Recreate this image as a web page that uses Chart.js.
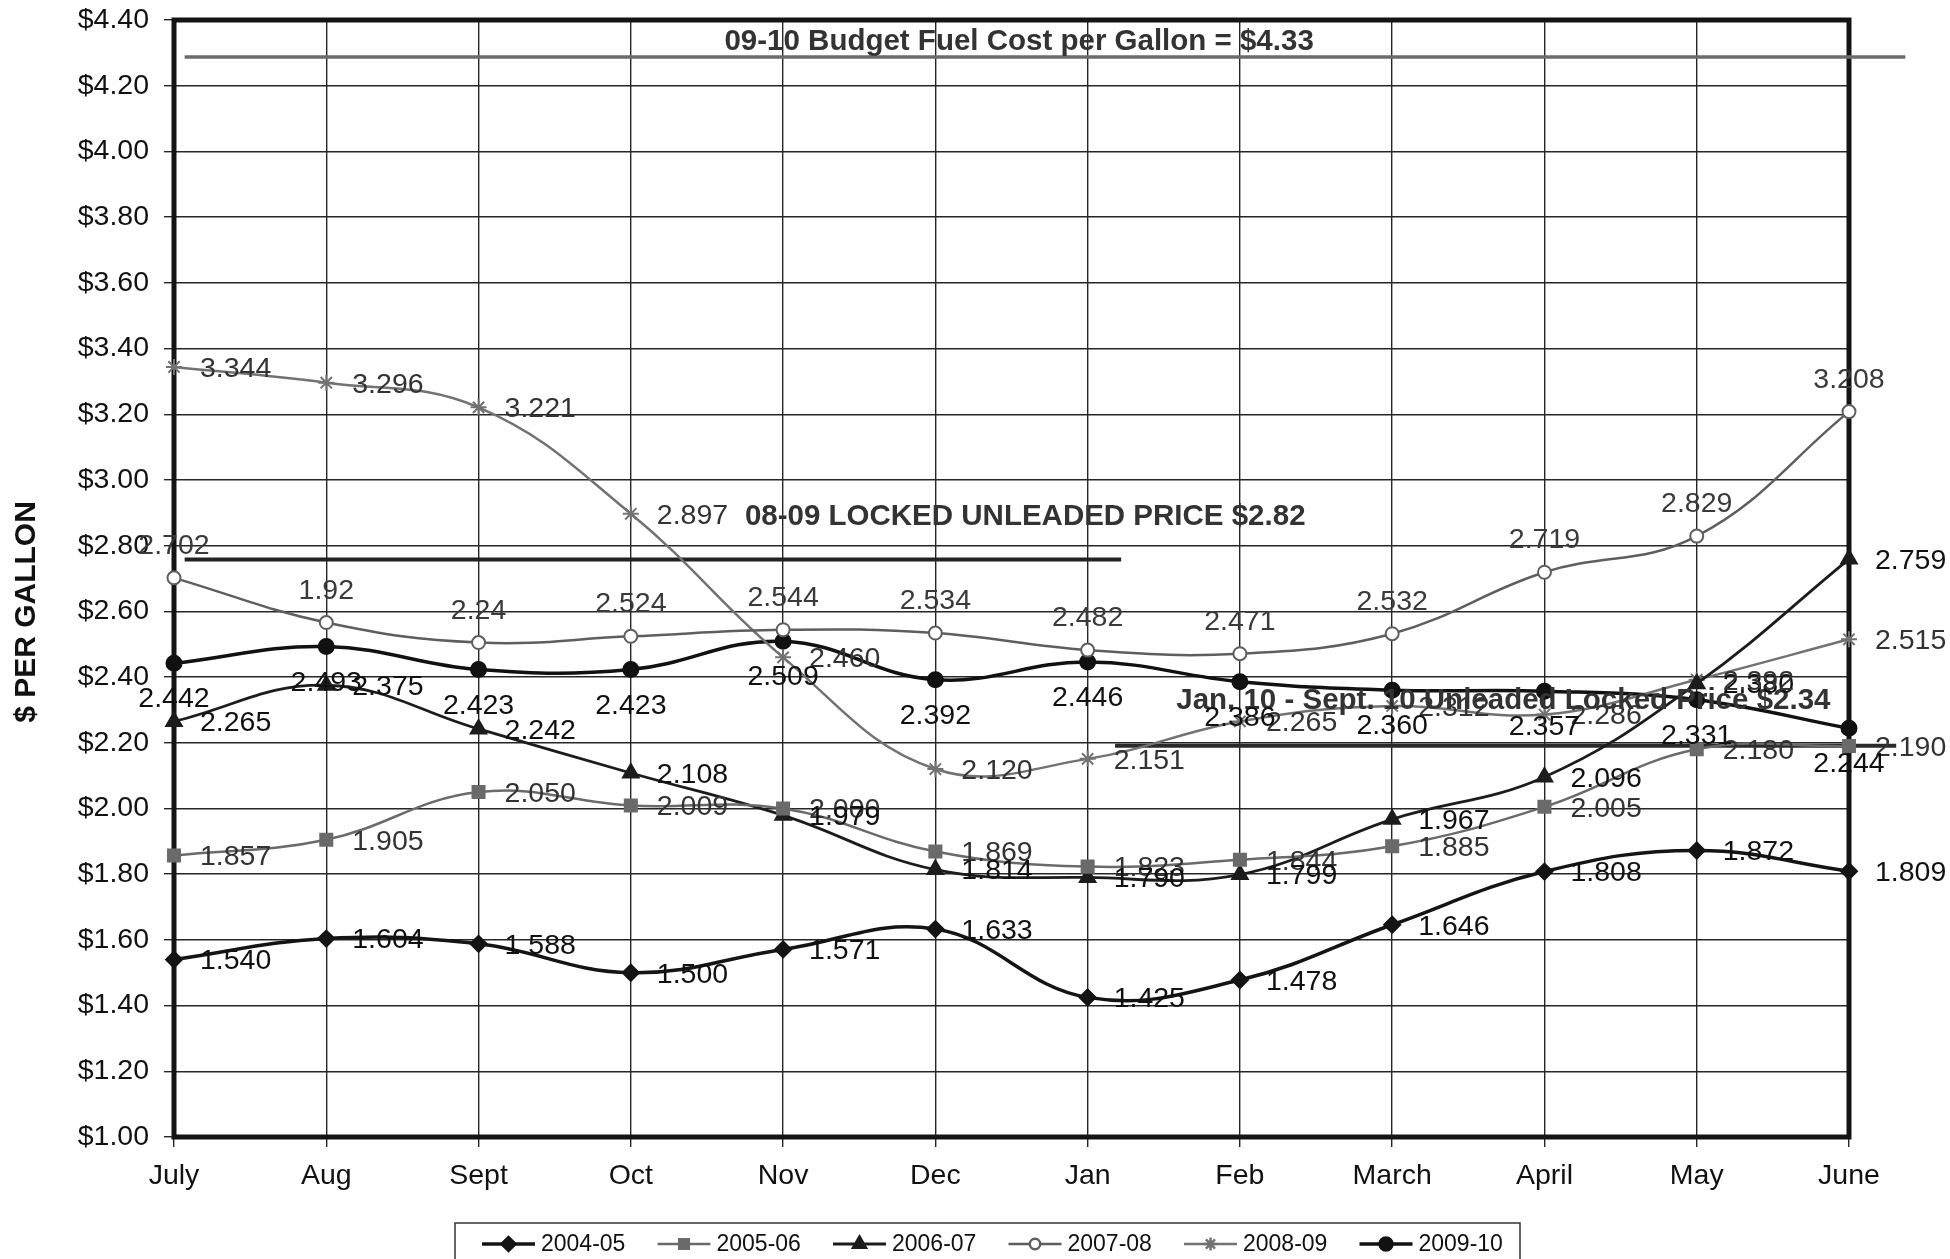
<!DOCTYPE html>
<html>
<head>
<meta charset="utf-8">
<title>Fuel cost per gallon</title>
<script src="https://cdn.jsdelivr.net/npm/chart.js@4.4.1/dist/chart.umd.min.js"></script>
<style>
  html, body { margin: 0; padding: 0; background: #fff; }
  #wrap { width: 1950px; height: 1259px; overflow: hidden; }
</style>
</head>
<body>
<div id="wrap"><canvas id="fuelChart" width="1950" height="1259"></canvas></div>
<script>
const months = ['July', 'Aug', 'Sept', 'Oct', 'Nov', 'Dec', 'Jan', 'Feb', 'March', 'April', 'May', 'June']
const seasons = ['2004-05', '2005-06', '2006-07', '2007-08', '2008-09', '2009-10']

const price0405 = [1.540, 1.604, 1.588, 1.500, 1.571, 1.633, 1.425, 1.478, 1.646, 1.808, 1.872, 1.809]
const price0506 = [1.857, 1.905, 2.050, 2.009, 2.000, 1.869, 1.823, 1.844, 1.885, 2.005, 2.180, 2.190]
const price0607 = [2.265, 2.375, 2.242, 2.108, 1.979, 1.814, 1.790, 1.799, 1.967, 2.096, 2.380, 2.759]
const price0708 = [2.702, 2.566, 2.505, 2.524, 2.544, 2.534, 2.482, 2.471, 2.532, 2.719, 2.829, 3.208]
const price0809 = [3.344, 3.296, 3.221, 2.897, 2.460, 2.120, 2.151, 2.265, 2.312, 2.286, 2.392, 2.515]
const price0910 = [2.442, 2.493, 2.423, 2.423, 2.509, 2.392, 2.446, 2.386, 2.360, 2.357, 2.331, 2.244]

// the printed labels of 2007-08 do not all match the plotted points
const labels0708 = ['2.702', '1.92', '2.24', '2.524', '2.544', '2.534', '2.482', '2.471', '2.532', '2.719', '2.829', '3.208']

const yTicksMin = 1.0
const yTicksMax = 4.4
const yTickStep = 0.2

// reference lines: y value, span in month index units, caption and where it sits
const refLines = [
  { value: 4.287, from: 0.07, to: 11.37, color: '#6b6b6b', width: 3.5,
    text: '09-10 Budget Fuel Cost per Gallon = $4.33', textAt: 5.55, textValue: 4.333 },
  { value: 2.758, from: 0.07, to: 6.22, color: '#222', width: 4,
    text: '08-09 LOCKED UNLEADED PRICE $2.82', textAt: 5.59, textValue: 2.889 },
  { value: 2.191, from: 6.18, to: 11.31, color: '#2a2a2a', width: 4,
    text: 'Jan. 10 - Sept. 10 Unleaded Locked Price $2.34', textAt: 8.73, textValue: 2.328 }
]

const FONT = "'Liberation Sans', Arial, sans-serif"
const TEXT_SIZE = 28.5

const fuelExtras = {
  id: 'fuelExtras',
  beforeDatasetsDraw(chart) {
    const { ctx, chartArea: a, scales: { x, y } } = chart
    ctx.save()
    // heavy frame round the plot
    ctx.strokeStyle = '#141414'
    ctx.lineWidth = 5
    ctx.strokeRect(a.left, a.top, a.right - a.left, a.bottom - a.top)

    refLines.forEach(r => {
      const py = y.getPixelForValue(r.value)
      ctx.strokeStyle = r.color
      ctx.lineWidth = r.width
      ctx.beginPath()
      ctx.moveTo(x.getPixelForValue(r.from), py)
      ctx.lineTo(x.getPixelForValue(r.to), py)
      ctx.stroke()
    })
    ctx.restore()
  },
  afterDatasetsDraw(chart) {
    const { ctx, scales: { x, y } } = chart
    ctx.save()

    // captions of the reference lines
    ctx.font = 'bold 29.5px ' + FONT
    ctx.fillStyle = '#333'
    ctx.textAlign = 'center'
    ctx.textBaseline = 'middle'
    refLines.forEach(r => {
      ctx.fillText(r.text, x.getPixelForValue(r.textAt), y.getPixelForValue(r.textValue))
    })

    // value labels on every point
    ctx.font = TEXT_SIZE + 'px ' + FONT
    chart.data.datasets.forEach((ds, i) => {
      const meta = chart.getDatasetMeta(i)
      ctx.fillStyle = ds.labelColor
      meta.data.forEach((pt, j) => {
        const txt = ds.pointText ? ds.pointText[j] : ds.data[j].toFixed(3)
        if (ds.labelSide === 'above') {
          ctx.textAlign = 'center'
          ctx.textBaseline = 'alphabetic'
          ctx.fillText(txt, pt.x, pt.y - 24)
        } else if (ds.labelSide === 'below') {
          ctx.textAlign = 'center'
          ctx.textBaseline = 'top'
          ctx.fillText(txt, pt.x, pt.y + 22)
        } else {
          ctx.textAlign = 'left'
          ctx.textBaseline = 'middle'
          ctx.fillText(txt, pt.x + 26, pt.y + 2)
        }
      })
    })
    ctx.restore()
  },
  afterDraw(chart) {
    const { ctx, chartArea: a } = chart
    ctx.save()

    // y axis title
    ctx.translate(27, a.top + (a.bottom - a.top) * 0.53)
    ctx.rotate(-Math.PI / 2)
    ctx.font = 'bold 30px ' + FONT
    ctx.fillStyle = '#111'
    ctx.textAlign = 'center'
    ctx.textBaseline = 'middle'
    ctx.fillText('$ PER GALLON', 0, 0)
    ctx.setTransform(1, 0, 0, 1, 0, 0)

    // legend box, cut by the bottom edge like the original
    ctx.strokeStyle = '#333'
    ctx.lineWidth = 1.5
    ctx.strokeRect(455, 1223, 1065, 60)

    ctx.font = '23px ' + FONT
    ctx.textAlign = 'left'
    ctx.textBaseline = 'middle'
    const ly = 1244
    chart.data.datasets.forEach((ds, i) => {
      const lx = 482 + i * 175.5
      ctx.strokeStyle = ds.borderColor
      ctx.lineWidth = ds.borderWidth
      ctx.beginPath()
      ctx.moveTo(lx, ly)
      ctx.lineTo(lx + 53, ly)
      ctx.stroke()
      ctx.fillStyle = ds.pointBackgroundColor
      ctx.strokeStyle = ds.pointBorderColor
      Chart.helpers.drawPoint(ctx, {
        pointStyle: ds.pointStyle,
        radius: ds.pointRadius * 0.8,
        rotation: 0,
        borderWidth: ds.pointBorderWidth
      }, lx + 26.5, ly)
      ctx.fillStyle = '#111'
      ctx.fillText(ds.label, lx + 59, ly + 1)
    })
    ctx.restore()
  }
}

function series(label, data, color, width, style, radius, fill, extra) {
  return Object.assign({
    label: label,
    data: data,
    borderColor: color,
    borderWidth: width,
    backgroundColor: color,
    pointStyle: style,
    pointRadius: radius,
    pointBackgroundColor: fill,
    pointBorderColor: color,
    pointBorderWidth: 2,
    tension: 0.4,
    clip: false,
    labelSide: 'right',
    labelColor: '#111'
  }, extra || {})
}

const datasets = [
  series(seasons[0], price0405, '#141414', 3.5, 'rectRot', 8, '#141414'),
  series(seasons[1], price0506, '#6a6a6a', 2.5, 'rect', 8.5, '#6a6a6a', { labelColor: '#333' }),
  series(seasons[2], price0607, '#1c1c1c', 2.8, 'triangle', 9, '#1c1c1c'),
  series(seasons[3], price0708, '#5e5e5e', 2.5, 'circle', 6.5, '#ffffff',
    { labelSide: 'above', labelColor: '#3a3a3a', pointText: labels0708 }),
  series(seasons[4], price0809, '#727272', 2.5, 'star', 8, '#727272', { labelColor: '#333' }),
  series(seasons[5], price0910, '#111111', 3.5, 'circle', 7.5, '#111111', { labelSide: 'below' })
]

new Chart(document.getElementById('fuelChart'), {
  type: 'line',
  data: { labels: months, datasets: datasets },
  plugins: [fuelExtras],
  options: {
    responsive: false,
    animation: false,
    devicePixelRatio: 1,
    layout: { padding: { left: 0, top: 20, right: 101, bottom: 36 } },
    plugins: {
      legend: { display: false },
      tooltip: { enabled: false }
    },
    scales: {
      x: {
        type: 'category',
        offset: false,
        grid: { color: '#262626', lineWidth: 1.4, tickLength: 10, offset: false },
        border: { display: false },
        ticks: {
          color: '#111',
          font: { family: FONT, size: TEXT_SIZE },
          padding: 12,
          maxRotation: 0,
          autoSkip: false
        },
        afterFit(scale) { scale.height = 86 }
      },
      y: {
        min: yTicksMin,
        max: yTicksMax,
        grid: { color: '#262626', lineWidth: 1.4, tickLength: 10 },
        border: { display: false },
        ticks: {
          stepSize: yTickStep,
          color: '#111',
          font: { family: FONT, size: TEXT_SIZE },
          padding: 15,
          callback: v => '$' + Number(v).toFixed(2)
        },
        afterFit(scale) {
          scale.width = 174
          // let the layout padding alone decide where the plot starts
          scale.paddingTop = 0
          scale.paddingBottom = 0
        }
      }
    }
  }
})
</script>
</body>
</html>
